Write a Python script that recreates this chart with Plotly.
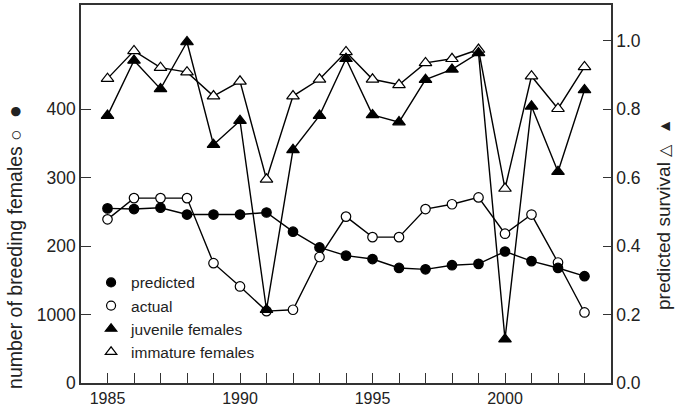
import plotly.graph_objects as go

years = list(range(1985, 2004))
predicted = [255, 254, 256, 246, 246, 246, 249, 221, 198, 186, 181, 168, 166, 172, 174, 192, 178, 168, 156]
actual = [239, 270, 270, 270, 175, 141, 105, 107, 184, 243, 213, 213, 254, 261, 271, 218, 246, 176, 103]
juvenile = [0.781, 0.942, 0.859, 0.996, 0.696, 0.766, 0.214, 0.681, 0.781, 0.947,
            0.783, 0.762, 0.886, 0.916, 0.964, 0.128, 0.808, 0.617, 0.856]
immature = [0.889, 0.970, 0.921, 0.908, 0.838, 0.881, 0.595, 0.838, 0.887, 0.967,
            0.887, 0.871, 0.935, 0.947, 0.974, 0.568, 0.896, 0.801, 0.923]

x_tick_vals = years
x_tick_text = [str(y) if y % 5 == 0 else "" for y in years]
y_tick_vals = [0, 100, 200, 300, 400]
y_tick_text = ["0", "1000", "200", "300", "400"]
y2_tick_vals = [0.0, 0.2, 0.4, 0.6, 0.8, 1.0]
y2_tick_text = ["0.0", "0.2", "0.4", "0.6", "0.8", "1.0"]

legend_names = ["predicted", "actual", "juvenile females", "immature females"]

FONT = "Liberation Sans, Arial, Helvetica, sans-serif"
AX = "#333333"
TXT = "#222222"
LW = 1.4

fig = go.Figure()

def add(y, name, symbol, fill, size, axis):
    fig.add_trace(go.Scatter(
        x=years, y=y, mode="lines+markers", name=name, showlegend=False,
        yaxis=axis,
        line=dict(color="black", width=LW),
        marker=dict(symbol=symbol, size=size, color=fill,
                    line=dict(color="black", width=1.2)),
    ))

add(immature, legend_names[3], "triangle-up", "white", 11, "y2")
add(juvenile, legend_names[2], "triangle-up", "black", 11, "y2")
add(actual, legend_names[1], "circle", "white", 9.5, "y")
add(predicted, legend_names[0], "circle", "black", 9.5, "y")

leg_specs = [("circle", "black", 9), ("circle", "white", 9),
             ("triangle-up", "black", 10), ("triangle-up", "white", 10)]
for name, (sym, fill, size) in zip(legend_names, leg_specs):
    fig.add_trace(go.Scatter(
        x=[None], y=[None], mode="markers", name=name, showlegend=True,
        marker=dict(symbol=sym, size=size, color=fill,
                    line=dict(color="black", width=1.2)),
    ))

fig.update_layout(
    template="none",
    width=675, height=406, autosize=False,
    margin=dict(l=81, r=64, t=5, b=23, pad=0),
    paper_bgcolor="white", plot_bgcolor="white",
    font=dict(family=FONT, color=TXT, size=17),
    showlegend=True,
    legend=dict(x=0.019, y=0.31, xanchor="left", yanchor="top",
                bgcolor="rgba(0,0,0,0)", borderwidth=0,
                font=dict(size=15.5, family=FONT, color=TXT),
                tracegroupgap=0, itemwidth=30),
    xaxis=dict(range=[1984, 2004], tickvals=x_tick_vals, ticktext=x_tick_text,
               ticks="inside", ticklen=10, tickwidth=1.2, tickcolor=AX,
               showline=True, linecolor=AX, linewidth=1.5, mirror=True,
               showgrid=False, zeroline=False, automargin=False,
               tickfont=dict(size=16, family=FONT, color=TXT)),
    yaxis=dict(range=[0, 552], tickvals=y_tick_vals, ticktext=y_tick_text,
               ticks="inside", ticklen=10, tickwidth=1.2, tickcolor=AX,
               showline=True, linecolor=AX, linewidth=1.5,
               showgrid=False, zeroline=False, automargin=False,
               tickfont=dict(size=17.5, family=FONT, color=TXT)),
    yaxis2=dict(range=[0, 1.104], tickvals=y2_tick_vals, ticktext=y2_tick_text,
                overlaying="y", side="right",
                ticks="inside", ticklen=8, tickwidth=1.2, tickcolor=AX,
                showline=True, linecolor=AX, linewidth=1.5,
                showgrid=False, zeroline=False, automargin=False,
                tickfont=dict(size=17.5, family=FONT, color=TXT)),
    annotations=[
        dict(text="number of breeding females <span style='font-size:19px'>\u25CB</span>  <span style='font-size:22px'>\u25CF</span>",
             xref="paper", yref="paper",
             x=-0.1245, y=0.36, xanchor="center", yanchor="middle", textangle=-90,
             showarrow=False, font=dict(size=19.5, family=FONT, color=TXT)),
        dict(text="predicted survival <span style='font-size:16px'>\u25B3</span>  <span style='font-size:16px'>\u25B2</span>",
             xref="paper", yref="paper",
             x=1.098, y=0.447, xanchor="center", yanchor="middle", textangle=-90,
             showarrow=False, font=dict(size=19, family=FONT, color=TXT)),
    ],
)

fig.write_html("out.html", config={"displayModeBar": False},
               post_script="document.body.style.margin='0';")
